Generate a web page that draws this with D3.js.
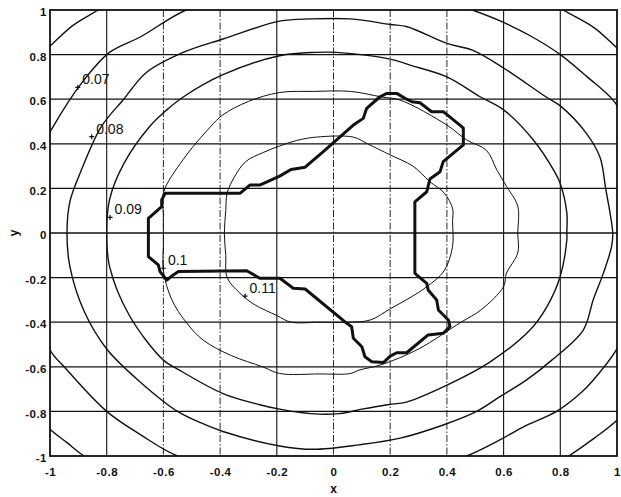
<!DOCTYPE html>
<html><head><meta charset="utf-8">
<script src="https://cdn.jsdelivr.net/npm/d3@7"></script>
<style>body{margin:0;background:#fff} svg{display:block}</style>
</head><body><svg id="c" width="621" height="497"></svg>
<script>
// ---------------- DATA ----------------
const xTickValues = [-1,-0.8,-0.6,-0.4,-0.2,0,0.2,0.4,0.6,0.8,1];
const xTickLabels = ["-1","-0.8","-0.6","-0.4","-0.2","0","0.2","0.4","0.6","0.8","1"];
const yTickValues = [-1,-0.8,-0.6,-0.4,-0.2,0,0.2,0.4,0.6,0.8,1];
const yTickLabels = ["-1","-0.8","-0.6","-0.4","-0.2","0","0.2","0.4","0.6","0.8","1"];

const contourLevels = [0.06,0.07,0.08,0.09,0.1,0.11];

const contour006 = [[1.31,0],[1.22,0.5],[1.1,0.72],[1.0,0.83],[0.92,0.92],[0.81,1.0],[0.6,1.16],[0,1.31],[-0.62,1.16],[-0.83,1.0],[-0.92,0.93],[-0.99,0.85],[-1.12,0.7],[-1.32,0],[-1.12,-0.72],[-1.0,-0.88],[-0.94,-0.94],[-0.88,-1.0],[-0.7,-1.12],[0,-1.31],[0.65,-1.14],[0.83,-1.0],[0.92,-0.92],[1.0,-0.84],[1.15,-0.64]];
const contour007 = [[1.14,0],[1.11,0.25],[1.05,0.44],[0.99,0.59],[0.895,0.70],[0.80,0.80],[0.70,0.88],[0.59,0.95],[0.49,1.0],[0.30,1.08],[0.02,1.12],[-0.30,1.08],[-0.52,1.0],[-0.68,0.88],[-0.79,0.81],[-0.89,0.67],[-0.99,0.475],[-1.05,0.33],[-1.10,0],[-1.05,-0.33],[-1.0,-0.525],[-0.95,-0.6],[-0.80,-0.80],[-0.68,-0.905],[-0.55,-1.0],[-0.30,-1.08],[0.02,-1.12],[0.30,-1.07],[0.47,-1.0],[0.587,-0.928],[0.67,-0.869],[0.787,-0.80],[0.87,-0.72],[0.916,-0.66],[1.0,-0.52],[1.08,-0.3],[1.13,-0.1]];
const contour008 = [[0.985,0],[0.96,0.2],[0.94,0.34],[0.89,0.45],[0.80,0.57],[0.75,0.61],[0.60,0.74],[0.49,0.82],[0.40,0.85],[0.26,0.925],[0.2,0.935],[0.06,0.96],[-0.08,0.96],[-0.19,0.95],[-0.39,0.87],[-0.53,0.81],[-0.66,0.72],[-0.74,0.6],[-0.82,0.475],[-0.89,0.28],[-0.93,0.14],[-0.94,0],[-0.93,-0.15],[-0.88,-0.35],[-0.80,-0.52],[-0.68,-0.67],[-0.55,-0.80],[-0.47,-0.85],[-0.39,-0.89],[-0.19,-0.955],[-0.07,-0.97],[0.09,-0.95],[0.235,-0.92],[0.387,-0.861],[0.505,-0.80],[0.587,-0.734],[0.68,-0.66],[0.77,-0.57],[0.881,-0.435],[0.916,-0.30],[0.952,-0.18],[0.981,-0.06]];
const contour009 = [[0.823,0],[0.823,0.09],[0.799,0.224],[0.776,0.283],[0.705,0.417],[0.6,0.552],[0.517,0.611],[0.40,0.70],[0.27,0.753],[0.2,0.78],[0.01,0.81],[-0.06,0.81],[-0.19,0.795],[-0.39,0.71],[-0.53,0.61],[-0.59,0.55],[-0.65,0.475],[-0.74,0.31],[-0.79,0.15],[-0.80,0],[-0.79,-0.15],[-0.72,-0.37],[-0.6,-0.57],[-0.55,-0.61],[-0.39,-0.72],[-0.26,-0.77],[-0.19,-0.79],[-0.08,-0.81],[0.02,-0.81],[0.1,-0.79],[0.19,-0.77],[0.26,-0.757],[0.387,-0.69],[0.55,-0.58],[0.693,-0.435],[0.752,-0.332],[0.799,-0.197],[0.823,-0.03]];
const contour010 = [[0.65,0],[0.65,0.12],[0.61,0.21],[0.576,0.283],[0.54,0.37],[0.47,0.417],[0.40,0.484],[0.235,0.596],[0.17,0.61],[0.06,0.635],[-0.07,0.635],[-0.19,0.63],[-0.30,0.59],[-0.39,0.53],[-0.435,0.475],[-0.53,0.33],[-0.6,0.18],[-0.60,0.08],[-0.60,-0.05],[-0.60,-0.17],[-0.57,-0.3],[-0.52,-0.4],[-0.46,-0.48],[-0.36,-0.55],[-0.25,-0.6],[-0.19,-0.63],[-0.05,-0.632],[0.06,-0.63],[0.09,-0.615],[0.17,-0.59],[0.3,-0.52],[0.45,-0.40],[0.52,-0.345],[0.6,-0.24],[0.61,-0.18],[0.65,-0.09]];
const contour011 = [[0.07,0.43],[-0.06,0.43],[-0.13,0.415],[-0.19,0.39],[-0.25,0.36],[-0.31,0.32],[-0.35,0.25],[-0.375,0.18],[-0.38,0.1],[-0.385,0],[-0.38,-0.1],[-0.375,-0.2],[-0.33,-0.27],[-0.28,-0.32],[-0.2,-0.37],[-0.15,-0.40],[-0.05,-0.40],[0.05,-0.40],[0.13,-0.39],[0.2,-0.34],[0.27,-0.29],[0.33,-0.24],[0.39,-0.17],[0.42,-0.06],[0.42,0.05],[0.42,0.11],[0.39,0.18],[0.34,0.23],[0.28,0.30],[0.2,0.35],[0.12,0.40]];

const contourLabels = ["0.07","0.08","0.09","0.1","0.11"];
const contourLabelAt = [[-0.902,0.653],[-0.853,0.432],[-0.788,0.07],[-0.60,-0.158],[-0.312,-0.283]];

const regionBoundary = [[-0.594,0.178],[-0.33,0.178],[-0.295,0.215],[-0.26,0.215],[-0.19,0.255],[-0.15,0.285],[-0.10,0.295],[-0.036,0.365],[0.07,0.484],[0.105,0.514],[0.117,0.559],[0.164,0.611],[0.188,0.626],[0.223,0.626],[0.252,0.604],[0.276,0.589],[0.305,0.584],[0.346,0.544],[0.387,0.544],[0.446,0.484],[0.458,0.47],[0.458,0.395],[0.387,0.32],[0.376,0.275],[0.34,0.242],[0.329,0.185],[0.287,0.14],[0.287,-0.18],[0.293,-0.188],[0.329,-0.226],[0.334,-0.256],[0.364,-0.30],[0.37,-0.345],[0.405,-0.39],[0.411,-0.42],[0.387,-0.45],[0.334,-0.457],[0.258,-0.537],[0.223,-0.537],[0.2,-0.552],[0.176,-0.581],[0.135,-0.577],[0.111,-0.555],[0.1,-0.51],[0.07,-0.472],[0.064,-0.42],[0.047,-0.405],[-0.10,-0.251],[-0.142,-0.248],[-0.189,-0.203],[-0.26,-0.203],[-0.306,-0.169],[-0.547,-0.173],[-0.565,-0.188],[-0.588,-0.211],[-0.612,-0.173],[-0.618,-0.143],[-0.653,-0.106],[-0.653,0.066],[-0.606,0.118],[-0.606,0.148]];

const contours = [contour006,contour007,contour008,contour009,contour010,contour011];

// ---------------- DRAWING ----------------
const svg = d3.select("#c");
const x = d3.scaleLinear().domain([-1,1]).range([50,617]);
const y = d3.scaleLinear().domain([-1,1]).range([456,10]);
const ink = "#111";

svg.append("rect").attr("width",621).attr("height",497).attr("fill","#fff");

svg.append("defs").append("clipPath").attr("id","plotclip")
  .append("rect").attr("x",x(-1)).attr("y",y(1))
  .attr("width",x(1)-x(-1)).attr("height",y(-1)-y(1));

// grid
const solidGridX = new Set([-0.8,-0.2,0.6,0.8]);
const inner = xTickValues.filter(v => v>-1 && v<1);
svg.append("g").selectAll("line").data(inner).join("line")
  .attr("x1",d=>x(d)).attr("x2",d=>x(d)).attr("y1",y(1)).attr("y2",y(-1))
  .attr("stroke",ink).attr("stroke-width",d=>solidGridX.has(d)?1.1:0.9)
  .attr("stroke-dasharray",d=>solidGridX.has(d)?null:"7,2,1.5,2");
svg.append("g").selectAll("line").data(yTickValues.filter(v=>v>-1&&v<1)).join("line")
  .attr("x1",x(-1)).attr("x2",x(1)).attr("y1",d=>y(d)).attr("y2",d=>y(d))
  .attr("stroke",ink).attr("stroke-width",1.3);

// contours
const line = d3.line().x(d=>x(d[0])).y(d=>y(d[1])).curve(d3.curveCatmullRomClosed.alpha(0.5));
svg.append("g").attr("clip-path","url(#plotclip)")
  .selectAll("path").data(contours).join("path")
  .attr("d",d=>line(d)).attr("fill","none").attr("stroke",ink)
  .attr("stroke-width",(d,i)=>contourLevels[i]>=0.1?1.0:1.4)
  .attr("stroke-linejoin","round");

// thick region boundary
const poly = d3.line().x(d=>x(d[0])).y(d=>y(d[1])).curve(d3.curveLinearClosed);
svg.append("path").attr("d",poly(regionBoundary))
  .attr("fill","none").attr("stroke",ink).attr("stroke-width",3)
  .attr("stroke-linejoin","round");

// contour labels
const lg = svg.append("g");
lg.selectAll("path").data(contourLabelAt).join("path")
  .attr("d",d=>{const px=x(d[0]),py=y(d[1]);return `M${px-2.5},${py}H${px+2.5}M${px},${py-2.5}V${py+2.5}`;})
  .attr("stroke",ink).attr("stroke-width",1.2);
lg.selectAll("text").data(contourLabelAt).join("text")
  .attr("x",d=>x(d[0])+4.5).attr("y",d=>y(d[1])-3)
  .text((d,i)=>contourLabels[i])
  .attr("font-family","'Liberation Sans',Arial,sans-serif").attr("font-size",14)
  .attr("fill",ink);

// frame
svg.append("rect").attr("x",x(-1)).attr("y",y(1))
  .attr("width",x(1)-x(-1)).attr("height",y(-1)-y(1))
  .attr("fill","none").attr("stroke",ink).attr("stroke-width",1.8);

// axes (labels only)
const fontFam = "'Liberation Sans',Arial,sans-serif";
const ax = svg.append("g").attr("transform",`translate(0,${y(-1)})`)
  .call(d3.axisBottom(x).tickValues(xTickValues).tickFormat((d,i)=>xTickLabels[i]).tickSize(0).tickPadding(12));
const ay = svg.append("g").attr("transform",`translate(${x(-1)},0)`)
  .call(d3.axisLeft(y).tickValues(yTickValues).tickFormat((d,i)=>yTickLabels[i]).tickSize(0).tickPadding(3));
[ax,ay].forEach(g=>{
  g.select(".domain").remove();
  g.selectAll("text").attr("font-family",fontFam).attr("font-size",11.5)
   .attr("font-weight","bold").attr("fill",ink).style("letter-spacing","0.5px");
});
ay.selectAll("text").attr("dy","0.5em");

svg.append("text").attr("x",(x(-1)+x(1))/2).attr("y",493).attr("text-anchor","middle")
  .attr("font-family",fontFam).attr("font-size",12).attr("font-weight","bold").attr("fill",ink).text("x");
svg.append("text").attr("transform",`translate(18,${y(0)}) rotate(-90)`).attr("text-anchor","middle")
  .attr("font-family",fontFam).attr("font-size",12).attr("font-weight","bold").attr("fill",ink).text("y");
</script></body></html>
